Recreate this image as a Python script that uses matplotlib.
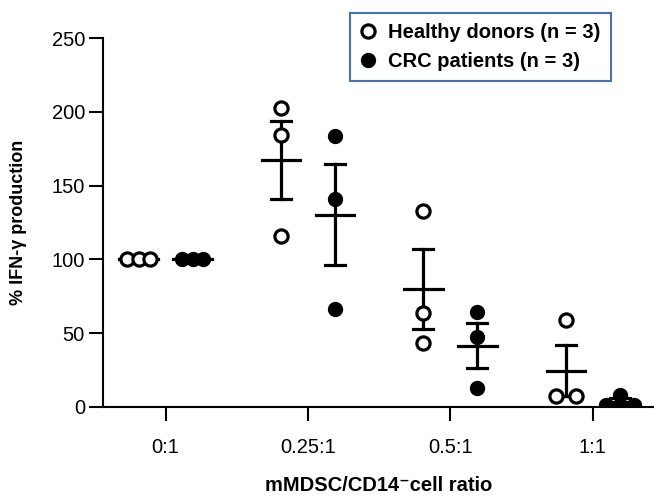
#Dot plot of IFN-gamma production vs mMDSC/CD14- cell ratio
#mean +/- SEM for healthy donors and CRC patients

import numpy as np
import matplotlib
matplotlib.use("Agg")
import matplotlib.pyplot as plt
from matplotlib.lines import Line2D

plt.rcParams['font.family'] = ['Liberation Sans', 'DejaVu Sans']

Ratios = ["0:1", "0.25:1", "0.5:1", "1:1"]

#percent IFN-y production, one list per ratio, three subjects each
HealthyDonors = [[100, 100, 100],
                 [202.6, 184.3, 115.9],
                 [132.8, 63.7, 43.4],
                 [58.9, 7.5, 7.5]]
CRCPatients = [[100, 100, 100],
               [183.6, 140.9, 66.4],
               [64.4, 47.4, 12.9],
               [8.0, 1.5, 1.5]]

YTicks = [0, 50, 100, 150, 200, 250]

#horizontal spread for tied points (like prism scatter dot plot)
HealthyJitter = [[-0.08, 0, 0.08], [0, 0, 0], [0, 0, 0], [0, -0.07, 0.07]]
CRCJitter = [[-0.075, 0, 0.075], [0, 0, 0], [0, 0, 0], [0, -0.1, 0.1]]


def PlotGroup(ax, Data, Jitter, Offset, Filled):
	for i, vals in enumerate(Data):
		vals = np.array(vals)
		xc = i + Offset
		x = xc + np.array(Jitter[i])
		if Filled:
			ax.plot(x, vals, 'o', ms=10, mfc='black', mec='black', mew=1, zorder=5, clip_on=True)
		else:
			ax.plot(x, vals, 'o', ms=9.5, mfc='white', mec='black', mew=2.3, zorder=5, clip_on=True)
		m = vals.mean()
		sem = vals.std(ddof=1) / np.sqrt(len(vals))
		if sem > 0:
			ax.plot([xc, xc], [m - sem, m + sem], color='black', lw=2.3, zorder=4)
			for cap in (m - sem, m + sem):
				ax.plot([xc - 0.07, xc + 0.07], [cap, cap], color='black', lw=2.3, zorder=4)
		ax.plot([xc - 0.135, xc + 0.135], [m, m], color='black', lw=2.3, zorder=4)


fig = plt.figure(figsize=(6.54, 5.0), dpi=100)
ax = fig.add_axes([103/654, 1 - 407/500, 1 - 103/654, (407 - 38)/500])

PlotGroup(ax, HealthyDonors, HealthyJitter, -0.19, False)
PlotGroup(ax, CRCPatients, CRCJitter, 0.19, True)

ax.set_xlim(-0.44, 3.43)
ax.set_ylim(0, 250)
ax.set_xticks(range(len(Ratios)))
ax.set_xticklabels(Ratios)
ax.set_yticks(YTicks)

for s in ['top', 'right']:
	ax.spines[s].set_visible(False)
for s in ['left', 'bottom']:
	ax.spines[s].set_linewidth(1.5)
ax.tick_params(axis='both', length=10, width=1.5, labelsize=14.5)
ax.tick_params(axis='x', pad=12)
ax.tick_params(axis='y', pad=3)

ax.set_xlabel("mMDSC/CD14\u207bcell ratio", fontsize=14.5, fontweight='bold', labelpad=14)
ax.set_ylabel("% IFN-\u03b3 production", fontsize=13, fontweight='bold', labelpad=18)

Handles = [Line2D([], [], ls='none', marker='o', ms=9.5, mfc='white', mec='black', mew=2.3),
           Line2D([], [], ls='none', marker='o', ms=10, mfc='black', mec='black')]
leg = fig.legend(Handles, ["Healthy donors (n = 3)", "CRC patients (n = 3)"],
                 loc='upper left', bbox_to_anchor=(350/654, 1 - 13/500),
                 prop={'weight': 'bold', 'size': 14.5}, fancybox=False, framealpha=1,
                 edgecolor='#4a72b0', borderpad=0.5, labelspacing=0.5,
                 handletextpad=0.6, handlelength=0.8, borderaxespad=0)
leg.get_frame().set_linewidth(1.5)

plt.savefig("out.png", dpi=100)
